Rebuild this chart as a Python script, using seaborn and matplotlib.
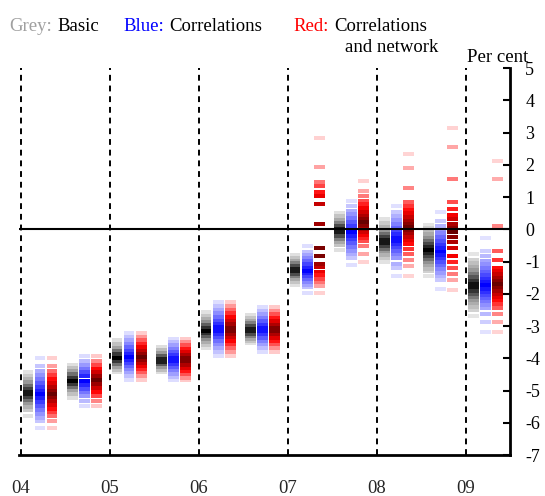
import matplotlib
matplotlib.use("Agg")
import matplotlib.pyplot as plt
from matplotlib.colors import LinearSegmentedColormap
from matplotlib.markers import MarkerStyle
import numpy as np
import pandas as pd
import seaborn as sns

# half-year periods, expressed as years since 2004
periods = [0.0, 0.5, 1.0, 1.5, 2.0, 2.5, 3.0, 3.5, 4.0, 4.5, 5.0]
year_labels = ["04", "05", "06", "07", "08", "09"]

# dash values (per cent) for each period, top to bottom
grey_dashes = [
    [-4.42, -4.55, -4.65, -4.75, -4.85, -4.95, -5.05, -5.12, -5.2, -5.3, -5.4, -5.5, -5.62, -5.80],
    [-4.2, -4.3, -4.4, -4.5, -4.6, -4.71, -4.8, -4.9, -5.0, -5.1, -5.22],
    [-3.43, -3.55, -3.67, -3.78, -3.88, -3.99, -4.08, -4.17, -4.26, -4.35, -4.43],
    [-3.65, -3.75, -3.85, -3.94, -4.03, -4.11, -4.19, -4.27, -4.35, -4.43],
    [-2.58, -2.68, -2.78, -2.88, -2.97, -3.06, -3.14, -3.22, -3.31, -3.4, -3.5, -3.59, -3.68],
    [-2.65, -2.74, -2.83, -2.92, -3.01, -3.09, -3.16, -3.24, -3.32, -3.4, -3.47, -3.54],
    [-0.79, -0.88, -0.97, -1.06, -1.14, -1.22, -1.3, -1.38, -1.46, -1.54, -1.63, -1.72],
    [0.5, 0.4, 0.3, 0.2, 0.1, 0.0, -0.1, -0.2, -0.3, -0.4, -0.5, -0.63],
    [0.32, 0.2, 0.08, -0.04, -0.14, -0.24, -0.33, -0.42, -0.51, -0.6, -0.69, -0.79, -0.89, -1.03],
    [0.14, 0.04, -0.06, -0.16, -0.26, -0.36, -0.46, -0.56, -0.65, -0.73, -0.82, -0.92, -1.02, -1.12,
     -1.22, -1.31, -1.46],
    [-0.76, -0.94, -1.05, -1.16, -1.27, -1.38, -1.49, -1.6, -1.7, -1.8, -1.9, -2.0, -2.1, -2.2,
     -2.3, -2.4, -2.49, -2.7],
]
blue_dashes = [
    [-4.0, -4.25, -4.40, -4.52, -4.64, -4.76, -4.88, -5.0, -5.12, -5.24, -5.36, -5.48, -5.6, -5.72,
     -5.84, -5.95, -6.16],
    [-3.94, -4.08, -4.2, -4.32, -4.44, -4.56, -4.71, -4.82, -4.94, -5.06, -5.18, -5.33, -5.49],
    [-3.22, -3.33, -3.44, -3.55, -3.66, -3.77, -3.86, -3.95, -4.04, -4.14, -4.24, -4.34, -4.44, -4.54, -4.68],
    [-3.4, -3.5, -3.6, -3.7, -3.8, -3.9, -4.0, -4.09, -4.18, -4.28, -4.38, -4.48, -4.58, -4.68],
    [-2.27, -2.39, -2.5, -2.61, -2.72, -2.83, -2.93, -3.03, -3.14, -3.24, -3.34, -3.45, -3.56, -3.68,
     -3.81, -3.94],
    [-2.41, -2.52, -2.63, -2.74, -2.85, -2.96, -3.06, -3.16, -3.26, -3.36, -3.46, -3.57, -3.68, -3.81],
    [-0.53, -0.69, -0.79, -0.89, -0.99, -1.09, -1.19, -1.28, -1.37, -1.46, -1.55, -1.64, -1.72, -1.8, -1.97],
    [0.89, 0.73, 0.58, 0.46, 0.34, 0.22, 0.1, -0.01, -0.1, -0.2, -0.31, -0.42, -0.54, -0.66, -0.78,
     -0.89, -1.1],
    [0.71, 0.52, 0.4, 0.28, 0.16, 0.05, -0.06, -0.16, -0.26, -0.36, -0.46, -0.56, -0.67, -0.78, -0.89,
     -1.07, -1.2, -1.46],
    [0.52, 0.27, 0.11, -0.01, -0.13, -0.25, -0.37, -0.48, -0.59, -0.69, -0.79, -0.9, -1.01, -1.12,
     -1.23, -1.35, -1.46, -1.58, -1.85],
    [-0.27, -0.66, -0.82, -0.98, -1.09, -1.2, -1.31, -1.42, -1.53, -1.64, -1.74, -1.84, -1.94, -2.04,
     -2.14, -2.24, -2.34, -2.44, -2.63, -2.87, -3.18],
]
red_dashes = [
    [-4.0, -4.25, -4.40, -4.52, -4.64, -4.76, -4.88, -5.0, -5.1, -5.2, -5.32, -5.44, -5.56, -5.68,
     -5.8, -5.95, -6.16],
    [-3.94, -4.09, -4.2, -4.32, -4.44, -4.56, -4.68, -4.8, -4.92, -5.04, -5.18, -5.33, -5.49],
    [-3.22, -3.33, -3.44, -3.55, -3.66, -3.77, -3.87, -3.97, -4.06, -4.15, -4.24, -4.34, -4.44, -4.54, -4.68],
    [-3.4, -3.5, -3.6, -3.7, -3.8, -3.9, -4.0, -4.1, -4.2, -4.3, -4.4, -4.5, -4.6, -4.68],
    [-2.27, -2.39, -2.5, -2.61, -2.72, -2.83, -2.94, -3.05, -3.15, -3.25, -3.35, -3.45, -3.56, -3.68,
     -3.81, -3.94],
    [-2.41, -2.52, -2.63, -2.74, -2.85, -2.96, -3.06, -3.16, -3.26, -3.36, -3.46, -3.57, -3.68, -3.81],
    [2.82, 1.94, 1.46, 1.33, 1.15, 1.02, 0.77, 0.15, -0.58, -0.84, -1.08, -1.18, -1.31, -1.43, -1.54,
     -1.64, -1.75, -1.98],
    [1.51, 1.2, 1.04, 0.89, 0.77, 0.65, 0.53, 0.42, 0.32, 0.22, 0.12, 0.02, -0.08, -0.18, -0.28,
     -0.38, -0.51, -0.76, -1.03],
    [2.32, 1.89, 1.27, 0.84, 0.71, 0.6, 0.49, 0.38, 0.27, 0.17, 0.07, -0.03, -0.13, -0.23, -0.33,
     -0.45, -0.61, -0.77, -0.95, -1.14, -1.46],
    [3.13, 2.56, 1.56, 0.85, 0.62, 0.45, 0.32, 0.17, 0.04, -0.1, -0.24, -0.4, -0.58, -0.84, -1.02,
     -1.2, -1.39, -1.58, -1.88],
    [2.13, 1.57, 0.11, -0.66, -0.95, -1.2, -1.3, -1.4, -1.5, -1.6, -1.7, -1.8, -1.9, -2.0, -2.1,
     -2.2, -2.32, -2.44, -2.63, -2.87, -3.18],
]

cmaps = {
    "grey": LinearSegmentedColormap.from_list("g", ["#eeeeee", "#9a9a9a", "#000000"]),
    "blue": LinearSegmentedColormap.from_list("b", ["#ececff", "#8080ff", "#0000ff"]),
    "red": LinearSegmentedColormap.from_list("r", [(0, "#ffe8e8"), (0.55, "#ff0000"), (1, "#680000")]),
}
offsets = {"grey": 0.08, "blue": 0.215, "red": 0.35}


def build_frame(name, dashes):
    rows = []
    for p, vals in zip(periods, dashes):
        n = len(vals)
        for i, v in enumerate(vals):
            q = (i + 0.5) / n
            rows.append({"x": p + offsets[name], "value": v, "shade": 1 - abs(2 * q - 1)})
    return pd.DataFrame(rows).sort_values("shade")


sns.set_style("white")
plt.rcParams["font.family"] = ["Liberation Serif", "DejaVu Serif"]
plt.rcParams["axes.unicode_minus"] = False

fig = plt.figure(figsize=(5.45, 4.96), dpi=100)
ax = fig.add_axes([19 / 545, 1 - 455 / 496, 491 / 545, 387 / 496])

# wide flat rectangle used as the dash marker
dash = MarkerStyle([(-1.35, -0.5), (1.35, -0.5), (1.35, 0.5), (-1.35, 0.5)])
for name, dashes in [("grey", grey_dashes), ("blue", blue_dashes), ("red", red_dashes)]:
    df = build_frame(name, dashes)
    sns.scatterplot(data=df, x="x", y="value", hue="shade", palette=cmaps[name], hue_norm=(0, 1),
                    marker=dash, s=60, linewidth=0, edgecolor="none", legend=False, ax=ax, zorder=3)

for k in range(len(year_labels)):
    ax.axvline(k, color="black", lw=1.4, ls=(0, (3, 2.5)), zorder=2)
ax.axhline(0, color="black", lw=1.5, zorder=4)

ax.set_xlim(-0.022, 5.494)
ax.set_ylim(-7, 5)
ax.set_xticks(range(len(year_labels)))
ax.set_xticklabels(year_labels)
ax.set_yticks(range(-7, 6))
ax.yaxis.tick_right()
ax.tick_params(axis="y", direction="in", length=5, width=1.5, labelsize=13, pad=11, colors="black")
ax.tick_params(axis="x", direction="in", length=4, width=1.5, labelsize=13.5, pad=18)
for lbl in ax.get_yticklabels():
    lbl.set_horizontalalignment("left")
ax.set_xlabel("")
ax.set_ylabel("")
for side in ["top", "left"]:
    ax.spines[side].set_visible(False)
for side in ["bottom", "right"]:
    ax.spines[side].set_linewidth(2)
    ax.spines[side].set_color("black")

fs = 13.5
fig.text(9 / 545, 0.938, "Grey:", color="#a0a0a0", fontsize=fs, va="baseline")
fig.text(57 / 545, 0.938, "Basic", color="black", fontsize=fs, va="baseline")
fig.text(123 / 545, 0.938, "Blue:", color="#0000ff", fontsize=fs, va="baseline")
fig.text(169 / 545, 0.938, "Correlations", color="black", fontsize=fs, va="baseline")
fig.text(293 / 545, 0.938, "Red:", color="#ff0000", fontsize=fs, va="baseline")
fig.text(334 / 545, 0.938, "Correlations", color="black", fontsize=fs, va="baseline")
fig.text(345 / 545, 0.896, "and network", color="black", fontsize=fs, va="baseline")
fig.text(467 / 545, 0.876, "Per cent", color="black", fontsize=fs, va="baseline")

fig.savefig("out.png", dpi=100)
